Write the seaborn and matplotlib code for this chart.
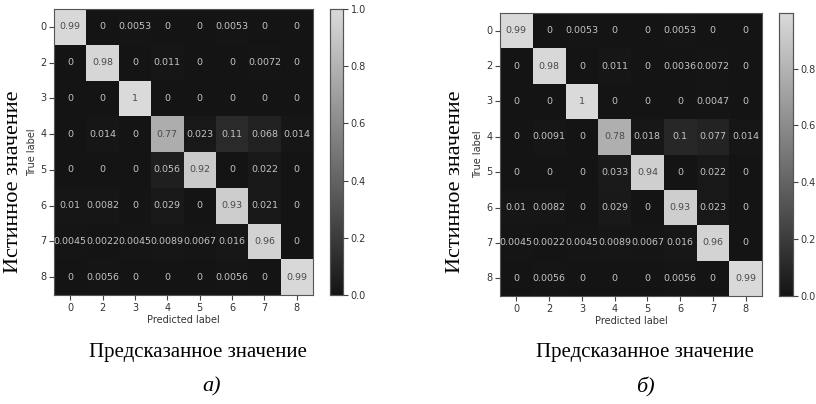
import numpy as np
import pandas as pd
import matplotlib
matplotlib.use("Agg")
import matplotlib.pyplot as plt
import seaborn as sns
from matplotlib.colors import LinearSegmentedColormap

labels = ["0", "2", "3", "4", "5", "6", "7", "8"]

cm_a = [
    [0.99, 0, 0.0053, 0, 0, 0.0053, 0, 0],
    [0, 0.98, 0, 0.011, 0, 0, 0.0072, 0],
    [0, 0, 1.0, 0, 0, 0, 0, 0],
    [0, 0.014, 0, 0.77, 0.023, 0.11, 0.068, 0.014],
    [0, 0, 0, 0.056, 0.92, 0, 0.022, 0],
    [0.01, 0.0082, 0, 0.029, 0, 0.93, 0.021, 0],
    [0.0045, 0.0022, 0.0045, 0.0089, 0.0067, 0.016, 0.96, 0],
    [0, 0.0056, 0, 0, 0, 0.0056, 0, 0.99],
]

cm_b = [
    [0.99, 0, 0.0053, 0, 0, 0.0053, 0, 0],
    [0, 0.98, 0, 0.011, 0, 0.0036, 0.0072, 0],
    [0, 0, 0.9953, 0, 0, 0, 0.0047, 0],
    [0, 0.0091, 0, 0.78, 0.018, 0.1, 0.077, 0.014],
    [0, 0, 0, 0.033, 0.94, 0, 0.022, 0],
    [0.01, 0.0082, 0, 0.029, 0, 0.93, 0.023, 0],
    [0.0045, 0.0022, 0.0045, 0.0089, 0.0067, 0.016, 0.96, 0],
    [0, 0.0056, 0, 0, 0, 0.0056, 0, 0.99],
]

ylabel_ru = "Истинное значение"
xlabel_ru = "Предсказанное значение"
panel_tags = ["а)", "б)"]

cmap = LinearSegmentedColormap.from_list("grayish", ["#141414", "#dadada"])

fig = plt.figure(figsize=(8.16, 4.04), dpi=100)
W, H = 816, 404


def rect(x0, y0, x1, y1):
    return [x0 / W, 1 - y1 / H, (x1 - x0) / W, (y1 - y0) / H]


panels = [
    (cm_a, rect(54, 9, 313, 295), rect(330, 9, 343, 295), 198, 212),
    (cm_b, rect(500, 13, 762, 296), rect(779, 13, 793, 296), 645, 645),
]

for i, (cm, arect, crect, xc_lab, xc_tag) in enumerate(panels):
    df = pd.DataFrame(cm, index=labels, columns=labels)
    ax = fig.add_axes(arect)
    cax = fig.add_axes(crect)
    vmax = float(np.max(df.values))
    sns.heatmap(df, ax=ax, cbar_ax=cax, cmap=cmap, vmin=0, vmax=vmax,
                annot=True, fmt=".2g", annot_kws={"fontsize": 6.8},
                square=False)
    ax.set_position(arect)
    cax.set_position(crect)
    vals = df.values.flatten()
    for t, v in zip(ax.texts, vals):
        t.set_color("#4a4a4a" if v / vmax > 0.5 else "#c4c4c4")
        t.set_fontfamily("DejaVu Sans")
    for s in ax.spines.values():
        s.set_visible(True)
        s.set_color("#555555")
        s.set_linewidth(0.8)
    ax.tick_params(axis="both", length=3.5, width=0.8, color="#444444",
                   labelsize=7, labelcolor="#333333", pad=2)
    ax.set_yticklabels(labels, rotation=0)
    ax.set_xticklabels(labels, rotation=0)
    ax.set_xlabel("Predicted label", fontsize=7, color="#333333", labelpad=2)
    ax.set_ylabel("True label", fontsize=7, color="#333333", labelpad=2)
    cax.tick_params(length=3.5, width=0.8, labelsize=7, labelcolor="#333333",
                    color="#444444", pad=2)
    cax.set_yticks([0, 0.2, 0.4, 0.6, 0.8, 1.0] if vmax >= 1 else [0, 0.2, 0.4, 0.6, 0.8])
    cax.set_yticklabels([f"{v:.1f}" for v in cax.get_yticks()])
    for s in cax.spines.values():
        s.set_visible(True)
        s.set_color("#555555")
        s.set_linewidth(0.8)
    # Russian labels
    fig.text(xc_lab / W, 1 - 352 / H, xlabel_ru, ha="center", va="center",
             fontsize=15, family="Liberation Serif")
    fig.text(xc_tag / W, 1 - 387 / H, panel_tags[i], ha="center", va="center",
             fontsize=16, family="Liberation Serif", style="italic")

fig.text(13.5 / W, 1 - 182 / H, ylabel_ru, rotation=90, ha="center", va="center",
         fontsize=16, family="Liberation Serif")
fig.text(456 / W, 1 - 182 / H, ylabel_ru, rotation=90, ha="center", va="center",
         fontsize=16, family="Liberation Serif")

fig.savefig("out.png", dpi=100)
